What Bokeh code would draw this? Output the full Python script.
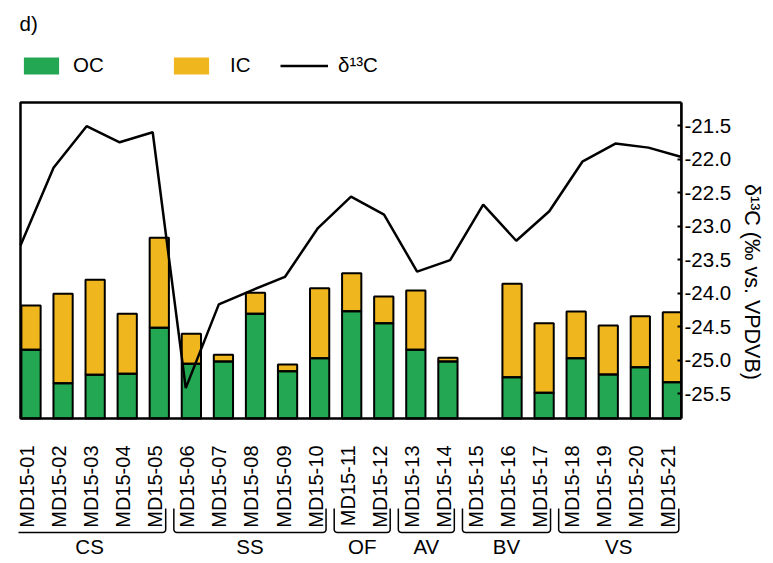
import numpy as np
from bokeh.plotting import figure
from bokeh.models import (Range1d, LinearAxis, FixedTicker, Legend, LegendItem,
                          Label, ColumnDataSource, NumeralTickFormatter, CDSView,
                          BooleanFilter)
from bokeh.embed import file_html
from bokeh.resources import INLINE
from bokeh.core.properties import value

# ---------------- data ----------------
samples = ["MD15-01", "MD15-02", "MD15-03", "MD15-04", "MD15-05", "MD15-06", "MD15-07",
           "MD15-08", "MD15-09", "MD15-10", "MD15-11", "MD15-12", "MD15-13", "MD15-14",
           "MD15-15", "MD15-16", "MD15-17", "MD15-18", "MD15-19", "MD15-20", "MD15-21"]
oc = [6.87, 3.53, 4.37, 4.47, 9.07, 5.47, 5.70, 10.47, 4.73, 6.03, 10.73,
      9.53, 6.87, 5.70, 0.0, 4.13, 2.57, 6.03, 4.40, 5.13, 3.63]
ic = [4.43, 8.94, 9.50, 6.00, 9.00, 3.00, 0.67, 2.10, 0.67, 7.00, 3.80,
      2.67, 5.93, 0.37, 0.0, 9.34, 6.96, 4.67, 4.90, 5.10, 7.00]
d13c = [-23.29, -22.13, -21.51, -21.75, -21.60, -25.42, -24.17, -23.96, -23.76, -23.03,
        -22.56, -22.83, -23.68, -23.51, -22.68, -23.22, -22.78, -22.04, -21.77, -21.83, -21.97]
groups = ["CS", "SS", "OF", "AV", "BV", "VS"]
group_first = [0, 5, 10, 12, 14, 17]
group_last = [4, 9, 11, 13, 16, 20]
d13c_ticks = [-21.5, -22.0, -22.5, -23.0, -23.5, -24.0, -24.5, -25.0, -25.5]

GREEN = "#23a752"
ORANGE = "#f0b61e"
FONT = "Liberation Sans"
FS = "20.5px"

idx = list(range(len(samples)))
total = [a + b for a, b in zip(oc, ic)]
src = ColumnDataSource(dict(x=idx, oc=oc, ic=ic, tot=total, label=samples))
has_bar = CDSView(filter=BooleanFilter([t > 0 for t in total]))

# plot box limits in the d13C scale
box_top, box_bottom = -21.157, -25.873

p = figure(width=773, height=563, output_backend="svg", toolbar_location=None,
           x_range=Range1d(-0.0605, 20), y_range=Range1d(-28.037, -19.634),
           x_axis_location=None, y_axis_location=None,
           min_border_left=18, min_border_right=92, min_border_top=0, min_border_bottom=0,
           outline_line_color=None, background_fill_color="white", border_fill_color="white")
p.grid.visible = False
p.extra_x_ranges = {"bars": Range1d(-0.39, 20.284)}
p.extra_y_ranges = {"bars": Range1d(-14.5, 41.8)}

# stacked bars: fills, then outlines
r_oc = p.vbar(x="x", bottom=0, top="oc", width=0.6, source=src, view=has_bar,
              fill_color=GREEN, line_color=None, x_range_name="bars", y_range_name="bars")
r_ic = p.vbar(x="x", bottom="oc", top="tot", width=0.6, source=src, view=has_bar,
              fill_color=ORANGE, line_color=None, x_range_name="bars", y_range_name="bars")
p.vbar(x="x", bottom=0, top="oc", width=0.6, source=src, view=has_bar, fill_color=None,
       line_color="black", line_width=2, x_range_name="bars", y_range_name="bars")
p.vbar(x="x", bottom="oc", top="tot", width=0.6, source=src, view=has_bar, fill_color=None,
       line_color="black", line_width=2, x_range_name="bars", y_range_name="bars")

# plot box
p.quad(left=0, right=20, bottom=box_bottom, top=box_top, fill_color=None,
       line_color="black", line_width=2.5)

# d13C line
r_line = p.line(x=idx, y=d13c, line_color="black", line_width=2.5)

# right axis
ax = LinearAxis(ticker=FixedTicker(ticks=d13c_ticks), bounds=(box_bottom, box_top),
                formatter=NumeralTickFormatter(format="0.0"),
                axis_label="δ¹³C (‰ vs. VPDVB)")
ax.axis_line_width = 2.5
ax.major_tick_in = 4
ax.major_tick_out = 0
ax.major_tick_line_width = 2
ax.minor_tick_line_color = None
ax.major_label_standoff = 3
ax.major_label_text_font = FONT
ax.major_label_text_font_size = FS
ax.major_label_text_color = "black"
ax.axis_label_text_font = FONT
ax.axis_label_text_font_size = "21.5px"
ax.axis_label_text_font_style = "normal"
ax.axis_label_text_color = "black"
ax.axis_label_standoff = 6
p.add_layout(ax, "right")

# category labels
p.text(x="x", y=-2.7, text="label", source=src, angle=np.pi / 2, text_align="right",
       text_baseline="middle", x_offset=-4, text_font=value(FONT), text_font_size="20px",
       text_color="black", x_range_name="bars", y_range_name="bars")

# group brackets
rx, ry = 3 / 32.07, 0.3
yt, yb = -9.0, -11.4
th = np.linspace(0, np.pi / 2, 6)
bxs, bys, mids = [], [], []
for f, l in zip(group_first, group_last):
    x0, x1 = f - 0.546, l + 0.2
    lx = list(x0 + rx - rx * np.cos(th))
    ly = list(yb + ry - ry * np.sin(th))
    rxs = list(x1 - rx + rx * np.sin(th))
    rys = list(yb + ry - ry * np.cos(th))
    bxs.append([x0] + lx + rxs + [x1])
    bys.append([yt] + ly + rys + [yt])
    mids.append((x0 + x1) / 2)
p.multi_line(xs=bxs, ys=bys, line_color="black", line_width=1.5,
             x_range_name="bars", y_range_name="bars")
p.text(x=mids, y=-12.8, text=groups, text_align="center", text_baseline="middle",
       text_font=value(FONT), text_font_size=FS, text_color="black",
       x_range_name="bars", y_range_name="bars")


def make_legend(label, rend, loc, gw, standoff):
    lg = Legend(items=[LegendItem(label=label, renderers=[rend])], location=loc,
                orientation="horizontal", glyph_width=gw, glyph_height=21,
                label_standoff=standoff, padding=0, margin=0, spacing=0,
                border_line_color=None, background_fill_alpha=0,
                label_text_font=FONT, label_text_font_size=FS, label_text_color="black",
                label_height=21)
    p.add_layout(lg)


make_legend("OC", r_oc, (1, 486), 44, 10)
make_legend("IC", r_ic, (151, 486), 44, 17)
make_legend("δ¹³C", r_line, (262, 486), 48, 10)

p.add_layout(Label(x=-0.359, y=39.5, text="d)", text_baseline="middle",
                   text_font=FONT, text_font_size=FS, text_color="black",
                   x_range_name="bars", y_range_name="bars"))

open("out.html", "w").write(file_html(p, INLINE))
